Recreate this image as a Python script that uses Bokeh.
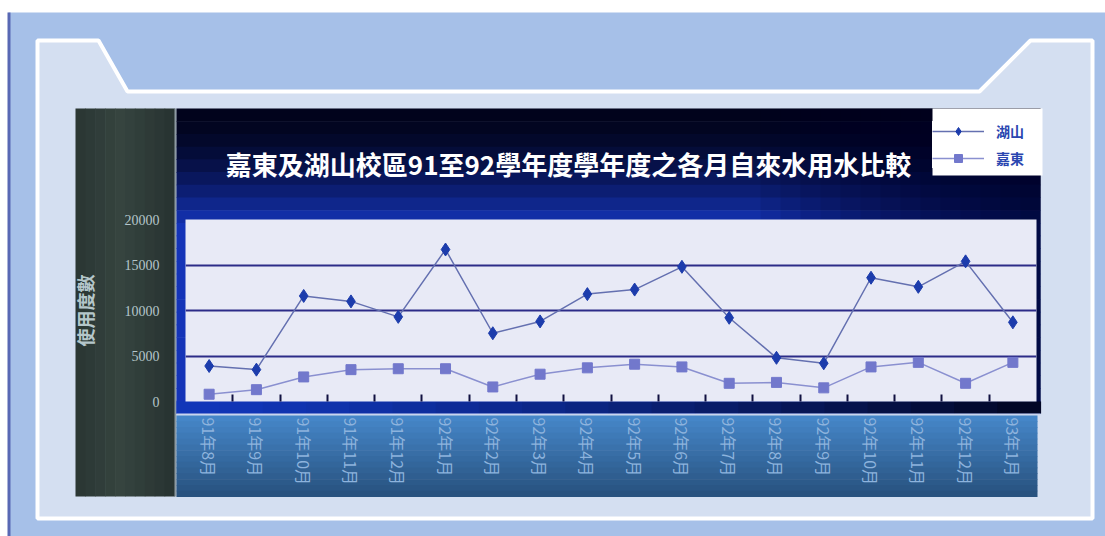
import math
from bokeh.plotting import figure
from bokeh.models import (Label, FixedTicker, Range1d, Legend, LegendItem)
from bokeh.embed import file_html
from bokeh.resources import INLINE

# ---------------- data ----------------
months = ["91年8月", "91年9月", "91年10月", "91年11月", "91年12月", "92年1月",
          "92年2月", "92年3月", "92年4月", "92年5月", "92年6月", "92年7月",
          "92年8月", "92年9月", "92年10月", "92年11月", "92年12月", "93年1月"]
hushan = [3900, 3500, 11600, 11000, 9300, 16700, 7500, 8800, 11800,
          12300, 14800, 9200, 4800, 4200, 13600, 12600, 15400, 8700]
jiadong = [800, 1300, 2700, 3500, 3600, 3600, 1600, 3000, 3700,
           4100, 3800, 2000, 2100, 1500, 3800, 4300, 2000, 4300]
y_ticks = [0, 5000, 10000, 15000, 20000]
grid_vals = [5000, 10000, 15000]
title_text = "嘉東及湖山校區91至92學年度學年度之各月自來水用水比較"
y_label = "使用度數"
series_names = ["湖山", "嘉東"]

CJK = "Noto Sans CJK TC"
W, H = 1105, 536

C1_LINE, C1_MARK = "#6470b0", "#1c3cac"
C2_LINE, C2_MARK = "#8a90d0", "#7278cc"


def hexmix(c1, c2, t):
    a = [int(c1[i:i + 2], 16) for i in (1, 3, 5)]
    b = [int(c2[i:i + 2], 16) for i in (1, 3, 5)]
    return "#%02x%02x%02x" % tuple(int(round(a[k] + (b[k] - a[k]) * t)) for k in range(3))


# ============ backdrop figure (pixel space, decorations only) ============
d = figure(width=W, height=H, x_range=Range1d(0, W), y_range=Range1d(H, 0), min_border=0,
           x_axis_location=None, y_axis_location=None, output_backend="svg",
           toolbar_location=None, background_fill_color="white", border_fill_color="white",
           outline_line_color=None)
d.grid.visible = False


class Boxes:
    def __init__(self):
        self.l, self.r, self.t, self.b, self.c = [], [], [], [], []

    def add(self, l, r, t, b, c):
        self.l.append(l); self.r.append(r); self.t.append(t); self.b.append(b); self.c.append(c)

    def draw(self, alpha=1.0):
        d.quad(left=self.l, right=self.r, top=self.t, bottom=self.b,
               fill_color=self.c, fill_alpha=alpha, line_color=None)


b0 = Boxes()
b0.add(8, W, 12, H, "#a6c0e8")
b0.add(7, 10, 12, H, "#5868b4")
b0.draw()

d.patch([37, 98, 127, 979, 1030, 1092, 1092, 37], [40, 40, 91, 91, 40, 40, 518, 518],
        fill_color="#d4dff1", line_color="white", line_width=4)

b1 = Boxes()
# grey left panel with a soft horizontal gradient
g = 10
for k in range(g):
    l0 = 75 + (174 - 75) * k / g
    l1 = 75 + (174 - 75) * (k + 1) / g + 0.6
    tt = 1 - abs(k / (g - 1) - 0.45) / 0.55
    b1.add(l0, l1, 108, 496, hexmix("#283432", "#36443f", max(0.0, tt)))
b1.add(174, 176, 108, 496, "#8d9aa2")
n = 24
for k in range(n):
    t0 = 108 + (413 - 108) * k / n
    t1 = 108 + (413 - 108) * (k + 1) / n + 0.6
    b1.add(176, 1040, t0, t1, hexmix("#01031c", "#1434b8", min(1.0, (k / (n * 0.36)) ** 1.6)))
b1.draw()

b2 = Boxes()
for k in range(14):
    b2.add(760 + k * 20, 1040, 108, 413, "#010420")
b2.draw(alpha=0.09)

b3 = Boxes()
m = 20
for k in range(m):
    l0 = 176 + (1040 - 176) * k / m
    l1 = 176 + (1040 - 176) * (k + 1) / m + 0.6
    b3.add(l0, l1, 401, 413, hexmix("#1136b8", "#020726", (k / (m - 1)) ** 1.3))
b3.add(176, 1040, 413, 415, "#c9d5ee")
q = 14
for k in range(q):
    t0 = 415 + (496 - 415) * k / q
    t1 = 415 + (496 - 415) * (k + 1) / q + 0.6
    b3.add(176, 1037, t0, t1, hexmix("#4586c8", "#28527f", k / (q - 1)))
b3.draw()

# white backing box for the legend area
d.quad(left=[932], right=[1042], top=[108], bottom=[175], fill_color="white", line_color=None)

d.add_layout(Label(x=568, y=163, text=title_text, text_align="center", text_baseline="middle",
                   text_color="white", text_font=CJK, text_font_size="26px",
                   text_font_style="bold"))

# legend proxies (same styles as the series in the chart); one point kept off the canvas
pl1 = d.line([-50, -40], [-50, -50], line_color=C1_LINE, line_width=1.5)
ps1 = d.scatter([-50], [-50], marker="diamond", size=13, fill_color=C1_MARK, line_color=C1_MARK)
pl2 = d.line([-50, -40], [-50, -50], line_color=C2_LINE, line_width=1.5)
ps2 = d.scatter([-50], [-50], marker="square", size=10, fill_color=C2_MARK, line_color=C2_MARK)
legend = Legend(items=[LegendItem(label=series_names[0], renderers=[pl1, ps1]),
                       LegendItem(label=series_names[1], renderers=[pl2, ps2])],
                location=(932, H - 168), background_fill_color="white", background_fill_alpha=1,
                border_line_color=None, label_text_font=CJK, label_text_font_size="14px",
                label_text_font_style="bold", label_text_color="#2a46b0",
                glyph_width=52, glyph_height=20, label_height=20, label_standoff=12,
                spacing=7, padding=10, margin=0)
d.add_layout(legend, "center")

# ============ chart figure (data space) ============
xs = [i + 0.5 for i in range(len(months))]
p = figure(width=W, height=H, x_range=Range1d(0, len(months)), y_range=Range1d(0, 20000),
           min_border_left=185, min_border_right=69, min_border_top=219, min_border_bottom=135,
           output_backend="svg", toolbar_location=None, title=None,
           background_fill_color="#e8eaf6", border_fill_color="white", border_fill_alpha=0,
           outline_line_color=None)

p.yaxis.ticker = FixedTicker(ticks=y_ticks)
p.yaxis.axis_line_color = None
p.yaxis.major_tick_line_color = None
p.yaxis.minor_tick_line_color = None
p.yaxis.major_label_standoff = 20
p.yaxis.major_label_text_font = "Liberation Serif"
p.yaxis.major_label_text_font_size = "14px"
p.yaxis.major_label_text_color = "#b4c6ca"
p.yaxis.axis_label = y_label
p.yaxis.axis_label_text_font = CJK
p.yaxis.axis_label_text_font_size = "18px"
p.yaxis.axis_label_text_font_style = "bold"
p.yaxis.axis_label_text_color = "#b4c6ca"
p.yaxis.axis_label_standoff = 24

p.xaxis.ticker = FixedTicker(ticks=xs, minor_ticks=list(range(1, len(months))))
p.xaxis.major_label_overrides = {x: m_ for x, m_ in zip(xs, months)}
p.xaxis.major_label_orientation = -math.pi / 2
p.xaxis.major_label_standoff = 16
p.xaxis.major_label_text_font = CJK
p.xaxis.major_label_text_font_size = "16px"
p.xaxis.major_label_text_color = "#8db3dd"
p.xaxis.axis_line_color = None
p.xaxis.major_tick_in = 0
p.xaxis.major_tick_out = 0
p.xaxis.minor_tick_in = 7
p.xaxis.minor_tick_out = 0
p.xaxis.minor_tick_line_color = "#101040"
p.xaxis.minor_tick_line_width = 2

p.xgrid.grid_line_color = None
p.ygrid.ticker = FixedTicker(ticks=grid_vals)
p.ygrid.grid_line_color = "#2c2c88"
p.ygrid.grid_line_width = 2

p.line(xs, hushan, line_color=C1_LINE, line_width=1.5)
p.scatter(xs, hushan, marker="diamond", size=13, fill_color=C1_MARK, line_color=C1_MARK)
p.line(xs, jiadong, line_color=C2_LINE, line_width=1.5)
p.scatter(xs, jiadong, marker="square", size=10, fill_color=C2_MARK, line_color=C2_MARK)

# overlay the chart (transparent border) exactly on the backdrop
p.styles = {"position": "relative", "top": f"-{H}px"}
open("out.html", "w").write(file_html([d, p], INLINE))
